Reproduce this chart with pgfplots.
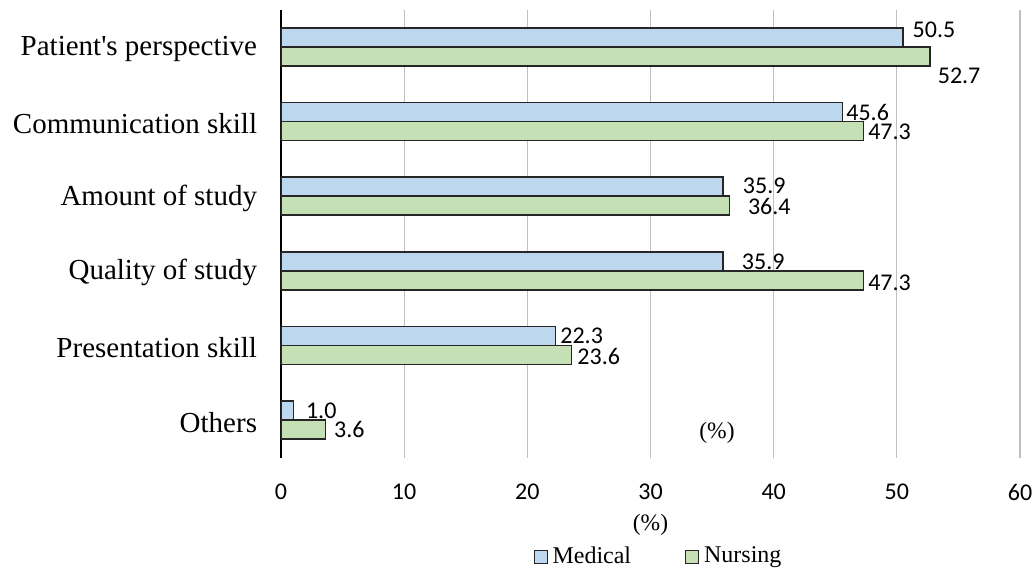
\documentclass[border=0pt]{standalone}
\usepackage{fontspec}
\setmainfont{Liberation Serif}
\newfontfamily\numfont{Carlito}
\usepackage{pgfplots}
\pgfplotsset{compat=1.18}
\usepackage{pgfplotstable}
\definecolor{medblue}{HTML}{BDD7EE}
\definecolor{nurgreen}{HTML}{C5E0B4}
\definecolor{barline}{HTML}{262626}
\definecolor{gridgray}{HTML}{BFBFBF}

% y: 5 = Patient's perspective ... 0 = Others
\pgfplotstableread{
y x dy dx
5 50.5 4 4.5
4 45.6 0 1.5
3 35.9 0.5 9.5
2 35.9 0 9
1 22.3 0 2
0 1.0 0 6
}\medical
\pgfplotstableread{
y x dy dx
5 52.7 -9.5 3.5
4 47.3 -0.5 2
3 36.4 -0.5 9
2 47.3 -1 2
1 23.6 -0.5 2.5
0 3.6 0 4
}\nursing

\begin{document}
\begin{tikzpicture}
\path[use as bounding box] (-140.5pt,-55.25pt) rectangle (376.5pt,228.75pt);
\begin{axis}[
  scale only axis, width=369.5pt, height=224pt,
  xbar, bar width=9.5pt,
  xmin=0, xmax=60, xtick={0,10,...,60},
  ymin=-0.5, ymax=5.5,
  ytick={0,...,5},
  yticklabels={Others, Presentation skill, Quality of study, Amount of study, Communication skill, Patient\textquotesingle s perspective},
  axis lines*=left,
  x axis line style={draw=none},
  y axis line style={black, line width=0.75pt},
  tick style={draw=none},
  xmajorgrids, grid style={gridgray, line width=0.6pt},
  /pgf/number format/assume math mode=true,
  xticklabel style={font=\numfont\fontsize{12}{14}\selectfont, inner sep=0pt, anchor=north},
  xticklabel shift=13pt,
  yticklabel style={font=\fontsize{14.5}{17}\selectfont, inner sep=0pt, anchor=east, yshift=-1pt},
  yticklabel shift=7.5pt,
  xlabel={(\%)},
  xlabel style={at={(axis description cs:0.5,0)}, anchor=center, yshift=-33.5pt, font=\fontsize{11.75}{14}\selectfont},
  point meta=x,
  nodes near coords={\pgfmathprintnumber[fixed,fixed zerofill,precision=1]{\pgfplotspointmeta}},
  nodes near coords style={font=\numfont\fontsize{12}{14}\selectfont, anchor=west, inner sep=0pt},
  visualization depends on={\thisrow{dy} \as \labeldy},
  visualization depends on={\thisrow{dx} \as \labeldx},
  every node near coord/.append style={yshift=\labeldy pt, xshift=\labeldx pt},
  legend columns=2,
  legend style={at={(axis description cs:0.5,0)}, anchor=center, xshift=3.5pt, yshift=-49.5pt,
    draw=none, fill=none, inner sep=0pt,
    font=\fontsize{12}{14}\selectfont,
    nodes={inner sep=0pt, anchor=west},
    /tikz/every odd column/.append style={column sep=2.5pt},
    /tikz/every even column/.append style={column sep=27pt}},
]
\addplot[fill=medblue, draw=barline, line width=0.75pt, bar shift=4.75pt,
  legend image code/.code={\draw[fill=medblue, draw=barline, line width=0.5pt] (0pt,-3.25pt) rectangle (6.5pt,3.25pt);}]
  table[x=x, y=y] {\medical};
\addlegendentry{Medical}
\addplot[fill=nurgreen, draw=barline, line width=0.75pt, bar shift=-4.75pt,
  legend image code/.code={\draw[fill=nurgreen, draw=barline, line width=0.5pt] (0pt,-3.25pt) rectangle (6.5pt,3.25pt);}]
  table[x=x, y=y] {\nursing};
\addlegendentry{Nursing}
\node[font=\fontsize{11.75}{14}\selectfont] at (axis cs:35.4,-0.174) {(\%)};
\end{axis}
\end{tikzpicture}
\end{document}
